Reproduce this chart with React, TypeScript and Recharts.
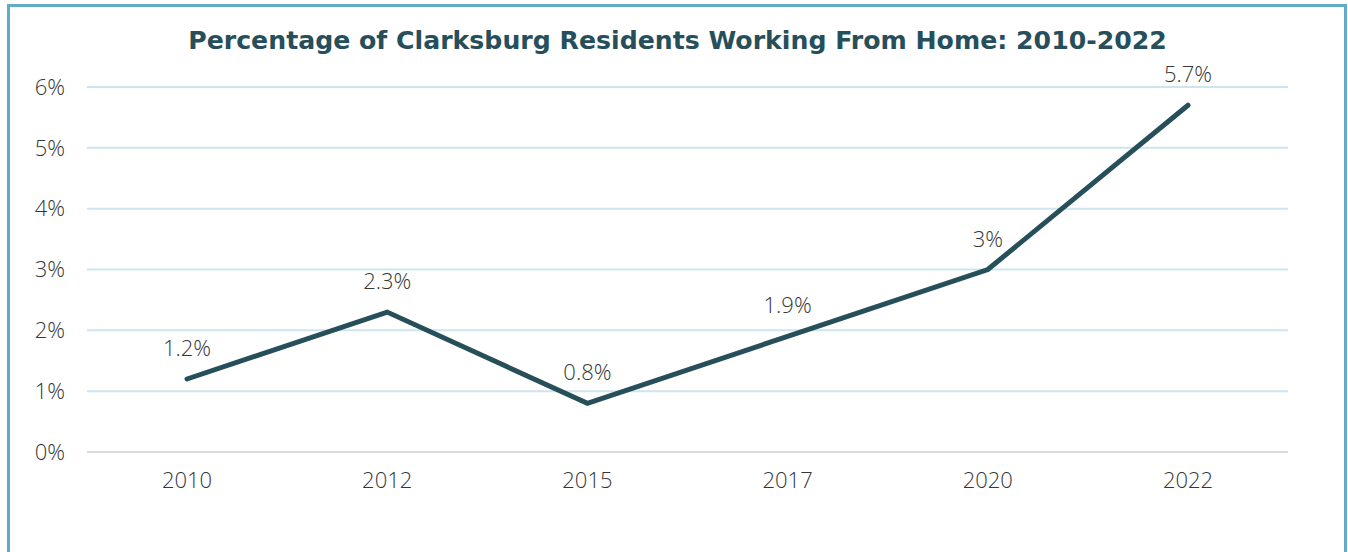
import React from "react";
import { LineChart, Line, XAxis, YAxis, CartesianGrid, LabelList } from "recharts";

const years = ["2010", "2012", "2015", "2017", "2020", "2022"];
const shareWorkingFromHome = [1.2, 2.3, 0.8, 1.9, 3, 5.7];
const yTicks = [0, 1, 2, 3, 4, 5, 6];
const valueLabels = ["1.2%", "2.3%", "0.8%", "1.9%", "3%", "5.7%"];

const data = years.map((year, i) => ({
  year,
  value: shareWorkingFromHome[i],
  label: valueLabels[i],
}));

const TEXT_FONT = "'Open Sans', sans-serif";
const TEXT_COLOR = "#363636";

export default function App() {
  return (
    <div
      style={{
        position: "fixed",
        left: 0,
        top: 0,
        width: 1348,
        height: 552,
        overflow: "hidden",
        background: "#ffffff",
      }}
    >
      <div
        style={{
          position: "absolute",
          left: 7,
          top: 4,
          width: 1340,
          height: 700,
          boxSizing: "border-box",
          border: "3px solid #63a9c8",
        }}
      />
      <div
        style={{
          position: "absolute",
          left: 0,
          top: 23,
          width: 1355,
          textAlign: "center",
          fontFamily: "'DejaVu Sans', Verdana, sans-serif",
          fontWeight: 700,
          fontSize: 25.2,
          color: "#264f5b",
          lineHeight: "36px",
          whiteSpace: "nowrap",
        }}
      >
        Percentage of Clarksburg Residents Working From Home: 2010-2022
      </div>
      <div style={{ position: "absolute", left: 0, top: 0 }}>
        <LineChart
          width={1348}
          height={552}
          data={data}
          margin={{ top: 87, right: 60, bottom: 70, left: 0 }}
        >
          <CartesianGrid
            horizontal={true}
            vertical={false}
            stroke="#cfe5ee"
            strokeWidth={2}
          />
          <XAxis
            dataKey="year"
            type="category"
            padding={{ left: 100, right: 100 }}
            height={30}
            tickLine={false}
            tickSize={0}
            tickMargin={20}
            axisLine={{ stroke: "#d9d9d9", strokeWidth: 2 }}
            tick={{ fill: TEXT_COLOR, fontSize: 22, fontFamily: TEXT_FONT, fontWeight: 300 }}
          />
          <YAxis
            width={87}
            domain={[0, 6]}
            ticks={yTicks}
            interval={0}
            tickFormatter={(v: number) => `${v}%`}
            axisLine={false}
            tickLine={false}
            tickSize={0}
            tickMargin={22}
            tick={{ fill: TEXT_COLOR, fontSize: 22, fontFamily: TEXT_FONT, fontWeight: 300 }}
          />
          <Line
            type="linear"
            dataKey="value"
            stroke="#264f5a"
            strokeWidth={5}
            strokeLinecap="round"
            dot={false}
            activeDot={false}
            isAnimationActive={false}
          >
            <LabelList
              dataKey="label"
              position="top"
              offset={23}
              fill={TEXT_COLOR}
              fontSize={22}
              fontFamily={TEXT_FONT}
              fontWeight={300}
            />
          </Line>
        </LineChart>
      </div>
    </div>
  );
}
